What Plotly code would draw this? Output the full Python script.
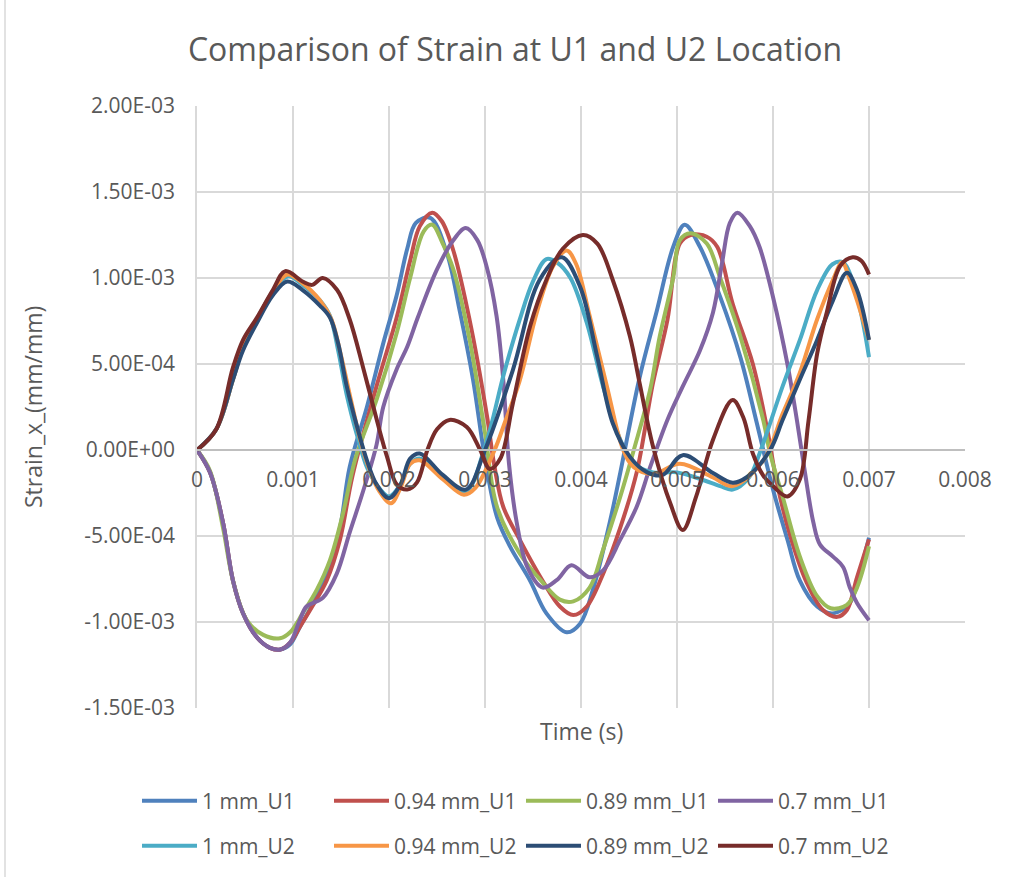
import numpy as np
import plotly.graph_objects as go

# Time lists are in milliseconds, strain lists in units of 1e-3 mm/mm.
MS = 1e-3
MILLI = 1e-3

# ---- U1 location -------------------------------------------------------
t_1mm_u1 = [0, 0.135, 0.27, 0.375, 0.48, 0.625, 0.76, 0.87, 0.97, 1.07, 1.2, 1.35, 1.49, 1.59,
            1.77, 1.94, 2.08, 2.19, 2.28, 2.43, 2.6, 2.74, 2.875, 3.0, 3.125, 3.26, 3.47, 3.64,
            3.85, 3.99, 4.125, 4.3, 4.41, 4.61, 4.79, 4.96, 5.08, 5.24, 5.45, 5.66, 5.83, 6.0,
            6.15, 6.28, 6.46, 6.62, 6.8, 6.9, 7.0]
s_1mm_u1 = [0, -0.13, -0.42, -0.76, -0.95, -1.09, -1.15, -1.16, -1.13, -1.03, -0.9, -0.72, -0.45, -0.1,
            0.25, 0.62, 0.9, 1.17, 1.32, 1.35, 1.15, 0.80, 0.41, -0.05, -0.39, -0.56, -0.76, -0.95,
            -1.06, -1.01, -0.81, -0.42, -0.13, 0.42, 0.81, 1.18, 1.31, 1.18, 0.89, 0.54, 0.16, -0.23,
            -0.52, -0.76, -0.91, -0.95, -0.89, -0.72, -0.51]

t_094_u1 = [0, 0.135, 0.27, 0.375, 0.48, 0.625, 0.76, 0.87, 0.97, 1.07, 1.2, 1.35, 1.49, 1.62,
            1.875, 2.08, 2.22, 2.32, 2.45, 2.55, 2.67, 2.84, 3.02, 3.1, 3.19, 3.36, 3.6, 3.78,
            3.92, 4.06, 4.23, 4.41, 4.58, 4.75, 4.9, 5.03, 5.14, 5.31, 5.42, 5.58, 5.79, 5.94,
            6.04, 6.18, 6.35, 6.52, 6.67, 6.77, 6.875, 7.0]
s_094_u1 = [0, -0.13, -0.42, -0.76, -0.95, -1.09, -1.15, -1.16, -1.12, -1.03, -0.91, -0.76, -0.52, -0.15,
            0.38, 0.77, 1.1, 1.3, 1.38, 1.33, 1.16, 0.755, 0.2, -0.1, -0.33, -0.52, -0.76, -0.91,
            -0.96, -0.91, -0.72, -0.45, -0.13, 0.39, 0.755, 1.2, 1.25, 1.24, 1.18, 0.85, 0.5, 0.12,
            -0.19, -0.5, -0.77, -0.93, -0.97, -0.93, -0.74, -0.52]

t_089_u1 = [0, 0.135, 0.27, 0.375, 0.52, 0.69, 0.865, 0.97, 1.1, 1.25, 1.385, 1.52, 1.65,
            1.875, 2.08, 2.22, 2.36, 2.45, 2.56, 2.67, 2.84, 3.0, 3.125, 3.36, 3.6, 3.78, 3.92,
            4.09, 4.23, 4.41, 4.55, 4.72, 4.82, 4.96, 5.03, 5.14, 5.31, 5.45, 5.66, 5.9, 5.97,
            6.1, 6.28, 6.46, 6.6, 6.77, 6.875, 7.0]
s_089_u1 = [0, -0.12, -0.45, -0.76, -0.99, -1.075, -1.095, -1.06, -0.95, -0.81, -0.64, -0.37, -0.05,
            0.3, 0.68, 1.0, 1.27, 1.31, 1.2, 1.05, 0.64, 0.1, -0.33, -0.6, -0.77, -0.87, -0.88,
            -0.8, -0.58, -0.27, 0.0, 0.35, 0.66, 1.0, 1.22, 1.26, 1.2, 1.0, 0.66, 0.17, -0.02,
            -0.27, -0.62, -0.85, -0.92, -0.9, -0.8, -0.56]

t_07_u1 = [0, 0.135, 0.27, 0.375, 0.48, 0.625, 0.76, 0.865, 0.97, 1.07, 1.14, 1.25, 1.31, 1.455,
           1.59, 1.73, 1.87, 1.94, 2.08, 2.19, 2.3, 2.5, 2.67, 2.8, 2.92, 3.02, 3.12, 3.19, 3.25,
           3.33, 3.44, 3.6, 3.75, 3.9, 4.09, 4.23, 4.41, 4.58, 4.72, 4.9, 5.06, 5.24, 5.375, 5.47,
           5.55, 5.63, 5.76, 5.86, 6.0, 6.15, 6.25, 6.33, 6.42, 6.49, 6.625, 6.73, 6.8, 6.875, 7.0]
s_07_u1 = [0, -0.13, -0.42, -0.76, -0.95, -1.09, -1.15, -1.16, -1.12, -0.99, -0.91, -0.88, -0.86, -0.72,
           -0.48, -0.24, 0.03, 0.25, 0.47, 0.6, 0.77, 1.05, 1.22, 1.29, 1.22, 1.06, 0.78, 0.41, -0.08,
           -0.42, -0.68, -0.8, -0.755, -0.67, -0.74, -0.70, -0.52, -0.33, -0.1, 0.175, 0.37, 0.58, 0.8, 1.09,
           1.32, 1.38, 1.3, 1.18, 0.89, 0.5, 0.17, -0.12, -0.42, -0.55, -0.62, -0.68, -0.8, -0.89, -0.99]

# ---- U2 location -------------------------------------------------------
t_1mm_u2 = [0, 0.2, 0.375, 0.48, 0.625, 0.79, 0.95, 1.1, 1.28, 1.385, 1.47, 1.56, 1.67, 1.77,
            1.87, 2.0, 2.12, 2.22, 2.32, 2.56, 2.8, 3.0, 3.2, 3.36, 3.5, 3.64, 3.75, 3.89, 4.06,
            4.23, 4.41, 4.55, 4.75, 5.0, 5.25, 5.45, 5.58, 5.75, 5.86, 6.1, 6.28, 6.46, 6.62,
            6.73, 6.875, 7.0]
s_1mm_u2 = [0, 0.12, 0.41, 0.6, 0.76, 0.92, 1.01, 0.96, 0.87, 0.78, 0.58, 0.32, 0.08, -0.1,
            -0.2, -0.27, -0.2, -0.08, -0.05, -0.16, -0.24, 0.02, 0.45, 0.755, 0.98, 1.11, 1.09, 1.0, 0.74,
            0.37, 0.06, -0.08, -0.13, -0.13, -0.17, -0.21, -0.23, -0.16, -0.02, 0.37, 0.64, 0.93, 1.08,
            1.09, 0.89, 0.54]

t_094_u2 = [0, 0.2, 0.375, 0.48, 0.625, 0.79, 0.94, 1.1, 1.28, 1.4, 1.5, 1.6, 1.7, 1.8, 1.9,
            2.02, 2.12, 2.22, 2.32, 2.56, 2.78, 2.9, 3.1, 3.2, 3.36, 3.54, 3.71, 3.85, 3.95, 4.09,
            4.27, 4.44, 4.55, 4.75, 5.03, 5.375, 5.58, 5.9, 6.1, 6.28, 6.46, 6.625, 6.72, 6.8,
            6.875, 7.0]
s_094_u2 = [0, 0.12, 0.41, 0.6, 0.76, 0.92, 1.02, 0.97, 0.87, 0.76, 0.55, 0.3, 0.06, -0.12, -0.24,
            -0.31, -0.22, -0.08, -0.06, -0.17, -0.26, -0.22, 0.0, 0.15, 0.4, 0.8, 1.07, 1.16, 1.08, 0.78,
            0.37, 0.0, -0.1, -0.14, -0.08, -0.16, -0.21, -0.06, 0.21, 0.45, 0.76, 0.99, 1.09, 0.99,
            0.87, 0.64]

t_089_u2 = [0, 0.2, 0.375, 0.48, 0.625, 0.79, 0.94, 1.1, 1.28, 1.385, 1.47, 1.56, 1.67, 1.77,
            1.87, 2.0, 2.12, 2.22, 2.32, 2.56, 2.8, 3.0, 3.29, 3.57, 3.8, 3.99, 4.17, 4.33, 4.51,
            4.69, 4.85, 5.06, 5.375, 5.58, 5.73, 5.97, 6.1, 6.28, 6.46, 6.625, 6.77, 6.875, 7.0]
s_089_u2 = [0, 0.12, 0.41, 0.58, 0.74, 0.90, 0.98, 0.93, 0.84, 0.77, 0.62, 0.37, 0.13, -0.06,
            -0.2, -0.28, -0.2, -0.05, -0.02, -0.145, -0.23, 0.0, 0.465, 0.99, 1.12, 0.95, 0.54, 0.157, -0.04,
            -0.13, -0.145, -0.03, -0.134, -0.19, -0.157, 0.0, 0.174, 0.41, 0.64, 0.87, 1.03, 0.93, 0.64]

t_07_u2 = [0, 0.2, 0.375, 0.48, 0.625, 0.79, 0.92, 1.1, 1.2, 1.31, 1.46, 1.59, 1.73, 1.875,
           1.98, 2.08, 2.19, 2.29, 2.4, 2.5, 2.63, 2.81, 2.95, 3.05, 3.16, 3.29, 3.47, 3.64, 3.81,
           4.02, 4.17, 4.33, 4.51, 4.61, 4.75, 4.93, 5.06, 5.2, 5.375, 5.58, 5.69, 5.79, 5.9, 6.0,
           6.15, 6.28, 6.37, 6.46, 6.56, 6.7, 6.83, 6.92, 7.0]
s_07_u2 = [0, 0.12, 0.48, 0.64, 0.77, 0.93, 1.04, 0.98, 0.96, 1.0, 0.93, 0.76, 0.48, 0.17,
           -0.04, -0.2, -0.23, -0.19, 0.0, 0.12, 0.175, 0.134, 0.0, -0.11, -0.05, 0.27, 0.72, 0.99, 1.17,
           1.25, 1.2, 0.99, 0.66, 0.39, 0.02, -0.31, -0.465, -0.27, 0.06, 0.29, 0.19, -0.02, -0.15, -0.21,
           -0.27, -0.17, 0.17, 0.56, 0.8, 1.07, 1.12, 1.1, 1.02]

series = [
    ("1 mm_U1", t_1mm_u1, s_1mm_u1, "#4F81BD", "legend"),
    ("0.94 mm_U1", t_094_u1, s_094_u1, "#C0504D", "legend"),
    ("0.89 mm_U1", t_089_u1, s_089_u1, "#9BBB59", "legend"),
    ("0.7 mm_U1", t_07_u1, s_07_u1, "#8064A2", "legend"),
    ("1 mm_U2", t_1mm_u2, s_1mm_u2, "#4BACC6", "legend2"),
    ("0.94 mm_U2", t_094_u2, s_094_u2, "#F79646", "legend2"),
    ("0.89 mm_U2", t_089_u2, s_089_u2, "#2C4D75", "legend2"),
    ("0.7 mm_U2", t_07_u2, s_07_u2, "#772C2A", "legend2"),
]

x_tick_vals = [0, 0.001, 0.002, 0.003, 0.004, 0.005, 0.006, 0.007, 0.008]
x_tick_text = ["0", "0.001", "0.002", "0.003", "0.004", "0.005", "0.006", "0.007", "0.008"]
y_tick_vals = [0.002, 0.0015, 0.001, 0.0005, 0.0, -0.0005, -0.001, -0.0015]
y_tick_text = ["2.00E-03", "1.50E-03", "1.00E-03", "5.00E-04", "0.00E+00",
               "-5.00E-04", "-1.00E-03", "-1.50E-03"]

FONT = "Open Sans"
GREY = "#595959"
GRID = "#D9D9D9"
AXIS = "#BFBFBF"
TICK_SIZE = 21

fig = go.Figure()
for name, t, s, color, leg in series:
    fig.add_trace(go.Scatter(
        x=np.array(t) * MS, y=np.array(s) * MILLI, mode="lines", name=name,
        line=dict(color=color, width=4, shape="spline", smoothing=1.0),
        legend=leg,
    ))

Y_MIN, Y_MAX = -0.0015, 0.002
zero_pos = (0 - Y_MIN) / (Y_MAX - Y_MIN)

# plot area spans 768 x 602 px; helpers convert page pixels to paper fractions
PLOT_L, PLOT_B, PLOT_W, PLOT_H = 197, 708, 768, 602
def px_x(px):
    return (px - PLOT_L) / PLOT_W
def px_y(py):
    return (PLOT_B - py) / PLOT_H

legend_common = dict(
    orientation="h", xanchor="left", yanchor="middle", x=px_x(137),
    font=dict(family=FONT, size=TICK_SIZE, color=GREY), bgcolor="rgba(0,0,0,0)",
    entrywidth=122, entrywidthmode="pixels", itemwidth=55, tracegroupgap=0,
)

fig.update_layout(
    width=1010, height=877,
    margin=dict(l=197, r=45, t=106, b=169, autoexpand=False),
    paper_bgcolor="white", plot_bgcolor="white",
    title=dict(text="Comparison of Strain at U1 and U2 Location",
               font=dict(family=FONT, size=32, color=GREY),
               x=515 / 1010, xanchor="center", y=1 - 50 / 877, yanchor="middle"),
    xaxis=dict(range=[0, 0.008], tickvals=x_tick_vals, ticktext=x_tick_text,
               showgrid=True, gridcolor=GRID, gridwidth=1.5, zeroline=False,
               showline=True, linecolor=AXIS, linewidth=1.5,
               anchor="free", position=zero_pos, ticks="",
               ticklabelstandoff=11,
               tickfont=dict(family=FONT, size=TICK_SIZE, color=GREY)),
    yaxis=dict(range=[Y_MIN, Y_MAX], tickvals=y_tick_vals, ticktext=y_tick_text,
               showgrid=True, gridcolor=GRID, gridwidth=1.5, zeroline=False,
               showline=True, linecolor=GRID, linewidth=1.5, ticks="",
               ticklabelstandoff=16,
               tickfont=dict(family=FONT, size=TICK_SIZE, color=GREY)),
    legend=dict(y=px_y(801), **legend_common),
    legend2=dict(y=px_y(846), **legend_common),
    annotations=[
        dict(text="Time (s)", xref="paper", yref="paper", x=0.5, y=px_y(731),
             xanchor="center", yanchor="middle", showarrow=False,
             font=dict(family=FONT, size=23, color=GREY)),
        dict(text="Strain_x_(mm/mm)", xref="paper", yref="paper", x=px_x(33), y=0.5,
             xanchor="center", yanchor="middle", textangle=-90, showarrow=False,
             font=dict(family=FONT, size=23, color=GREY)),
    ],
    shapes=[
        # chart-area edge on the left side
        dict(type="line", xref="paper", yref="paper", x0=px_x(5), x1=px_x(5),
             y0=px_y(877), y1=px_y(0), line=dict(color=GRID, width=1.5)),
    ],
)

fig.write_html("out.html")
